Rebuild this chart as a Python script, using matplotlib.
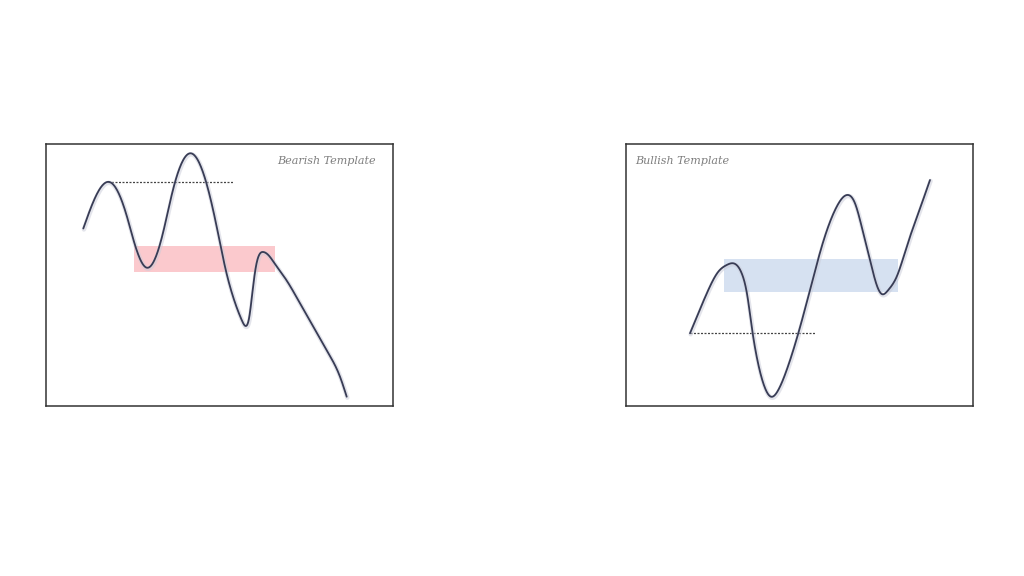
import numpy as np
import matplotlib
matplotlib.use("Agg")
import matplotlib.pyplot as plt

# ---- data (time units, price units) ----
bear_t = [37.3, 47, 63.5, 81, 88, 100.7, 117.3, 125.7, 144, 162.3, 170.7, 179, 187.3, 195.7,
          199.7, 203, 206, 209.5, 217.3, 222.3, 229, 240, 254, 267.3, 280.7, 294, 300.7]
bear_p = [177.5, 203.5, 224, 189.3, 164.3, 138.3, 174.3, 211, 252.7, 216, 179.3, 139.3, 108.5, 86,
          80, 87.5, 110, 137, 154, 151, 142, 126.5, 102.7, 79.3, 55.5, 29.3, 9.3]
bear_zone_t = [88.3, 229]
bear_zone_p = [134.3, 160]
bear_level_t = [62, 188]
bear_level_p = 224.3

bull_t = [64, 72.3, 82.3, 92.3, 100.7, 107.3, 115.7, 121.5, 125.7, 130.7, 137.3, 145,
          152.3, 160.7, 172.3, 184, 195.7, 210.7, 222.3, 229, 235.7, 244, 250.7,
          255.7, 262.3, 270.7, 280.7, 292.3, 304]
bull_p = [72.7, 92.7, 116, 134.3, 141, 142.7, 132.7, 109.3, 79.3, 49.3, 22.7, 9.3,
          16, 36, 72.7, 116, 159.3, 199.3, 211, 202.7, 179.3, 146, 121,
          112, 116, 129.3, 159.3, 192.7, 226]
bull_zone_t = [98, 271.7]
bull_zone_p = [113.7, 147]
bull_level_t = [64, 189]
bull_level_p = 72.7

titles = ["Bearish Template", "Bullish Template"]


def smooth(xs, ys, n=30):
    """Natural cubic spline rendering of a line through the given points."""
    x = np.asarray(xs, float)
    y = np.asarray(ys, float)
    m = len(x)
    h = np.diff(x)
    A = np.zeros((m, m))
    b = np.zeros(m)
    A[0, 0] = A[-1, -1] = 1.0
    for i in range(1, m - 1):
        A[i, i - 1] = h[i - 1]
        A[i, i] = 2 * (h[i - 1] + h[i])
        A[i, i + 1] = h[i]
        b[i] = 6 * ((y[i + 1] - y[i]) / h[i] - (y[i] - y[i - 1]) / h[i - 1])
    M = np.linalg.solve(A, b)
    XS, YS = [], []
    for i in range(m - 1):
        t = np.linspace(x[i], x[i + 1], n, endpoint=False)
        a = x[i + 1] - t
        c = t - x[i]
        s = (M[i] * a ** 3 / (6 * h[i]) + M[i + 1] * c ** 3 / (6 * h[i])
             + (y[i] / h[i] - M[i] * h[i] / 6) * a + (y[i + 1] / h[i] - M[i + 1] * h[i] / 6) * c)
        XS.append(t)
        YS.append(s)
    XS.append([x[-1]])
    YS.append([y[-1]])
    return np.concatenate(XS), np.concatenate(YS)


W, H = 1024, 576
fig = plt.figure(figsize=(W / 100, H / 100), dpi=100)
fig.patch.set_facecolor("white")

LINE = "#383c55"
panels = [
    (46, bear_t, bear_p, bear_zone_t, bear_zone_p, "#fbc9cd", bear_level_t, bear_level_p, titles[0], "right"),
    (626, bull_t, bull_p, bull_zone_t, bull_zone_p, "#d6e1f1", bull_level_t, bull_level_p, titles[1], "left"),
]
for left, t, p, zt, zp, zc, lt, lp, title, ha in panels:
    ax = fig.add_axes([left / W, 170 / H, 347 / W, 262 / H])
    ax.set_xlim(0, 347)
    ax.set_ylim(0, 262)
    ax.set_xticks([])
    ax.set_yticks([])
    for s in ax.spines.values():
        s.set_color("#333333")
        s.set_linewidth(1.1)
    ax.fill_between(zt, zp[0], zp[1], color=zc, lw=0, zorder=1)
    ax.plot(lt, [lp, lp], color="#444444", lw=0.9, dashes=(1.6, 1.2), zorder=2)
    sx, sy = smooth(t, p)
    ax.plot(sx + 0.6, sy - 1.0, color="#c9cbd8", lw=3.2, alpha=0.5, solid_capstyle="round", zorder=3)
    ax.plot(sx, sy, color=LINE, lw=1.3, solid_capstyle="round", zorder=4)
    tx = 330 if ha == "right" else 9
    ax.text(tx, 244.6, title, ha=ha, va="center", fontsize=8, style="italic",
            family="DejaVu Serif", color="#7e7e7e", zorder=5)

fig.savefig("out.png", dpi=100, facecolor="white")
